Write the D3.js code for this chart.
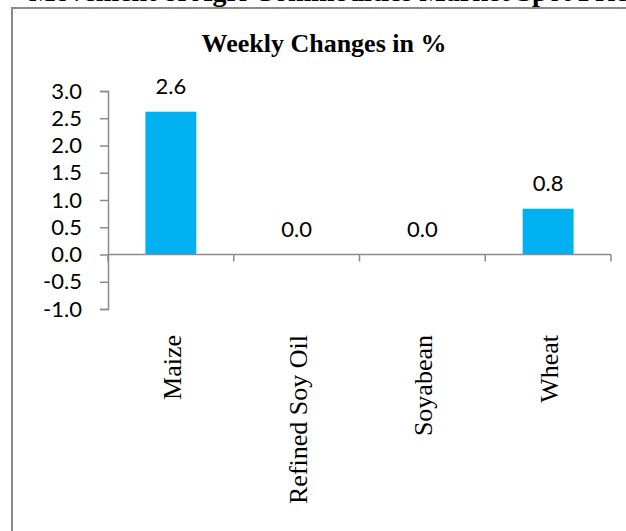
<!DOCTYPE html>
<html><head><meta charset="utf-8">
<script src="https://cdn.jsdelivr.net/npm/d3@7"></script>
<style>body{margin:0;background:#fff;}svg{display:block;}</style>
</head><body>
<svg id="c" width="626" height="531"></svg>
<script>
const categories = ["Maize", "Refined Soy Oil", "Soyabean", "Wheat"];
const values = [2.62, 0.0, 0.0, 0.84];
const valueLabels = ["2.6", "0.0", "0.0", "0.8"];
const yTicks = [-1.0, -0.5, 0.0, 0.5, 1.0, 1.5, 2.0, 2.5, 3.0];
const yTickLabels = ["-1.0", "-0.5", "0.0", "0.5", "1.0", "1.5", "2.0", "2.5", "3.0"];
const title = "Weekly Changes in %";
const pageHeading = "Movement of Agri Commodities Market Spot Prices";

const svg = d3.select("#c");
// clipped heading above frame (only the bottom of it is visible)
svg.append("text").attr("x", 340).attr("y", 1)
  .attr("text-anchor", "middle")
  .style("font-family", "Liberation Serif").style("font-weight", "bold").style("font-size", "28px")
  .text(pageHeading);
svg.append("rect").attr("x", 0).attr("y", 8).attr("width", 626).attr("height", 530).attr("fill", "#fff");
// frame
svg.append("rect").attr("x", 12).attr("y", 8).attr("width", 640).attr("height", 560)
  .attr("fill", "none").attr("stroke", "#8a8a8a").attr("stroke-width", 2);

svg.append("text").attr("x", 324).attr("y", 52).attr("text-anchor", "middle")
  .style("font-family", "Liberation Serif").style("font-weight", "bold").style("font-size", "26px")
  .text(title);

const x = d3.scaleBand().domain(categories).range([108, 611]);
const y = d3.scaleLinear().domain([-1, 3]).range([309, 91]);

// y axis
const ya = svg.append("g").attr("transform", "translate(108,0)")
  .call(d3.axisLeft(y).tickValues(yTicks).tickSize(8).tickPadding(18)
    .tickFormat((d, i) => yTickLabels[i]));
ya.select(".domain").attr("stroke", "#8a8a8a").attr("stroke-width", 1.5);
ya.selectAll(".tick line").attr("stroke", "#8a8a8a").attr("stroke-width", 1.5);
ya.selectAll(".tick text").style("font-family", "Lato").style("font-size", "22px").attr("fill", "#000");

// bars
const bw = x.bandwidth() * 0.405;
svg.selectAll("rect.bar").data(values).join("rect").attr("class", "bar")
  .attr("x", (d, i) => x(categories[i]) + x.bandwidth() / 2 - bw / 2)
  .attr("width", bw)
  .attr("y", d => y(Math.max(0, d)))
  .attr("height", d => Math.abs(y(d) - y(0)))
  .attr("fill", "#00B0F0");

// x axis line and ticks
const xa = svg.append("g");
xa.append("line").attr("x1", 108).attr("x2", 611).attr("y1", y(0)).attr("y2", y(0))
  .attr("stroke", "#8a8a8a").attr("stroke-width", 1.5);
const bounds = categories.map(c => x(c)).concat([x.range()[1]]);
xa.selectAll("line.t").data(bounds).join("line").attr("class", "t")
  .attr("x1", d => d).attr("x2", d => d).attr("y1", y(0)).attr("y2", y(0) + 7)
  .attr("stroke", "#8a8a8a").attr("stroke-width", 1.5);

// value labels
svg.selectAll("text.vl").data(values).join("text").attr("class", "vl")
  .attr("x", (d, i) => x(categories[i]) + x.bandwidth() / 2)
  .attr("y", d => y(Math.max(0, d)) - 18)
  .attr("text-anchor", "middle")
  .style("font-family", "Lato").style("font-size", "22px")
  .text((d, i) => valueLabels[i]);

// category labels
svg.selectAll("text.cl").data(categories).join("text").attr("class", "cl")
  .attr("transform", d => `translate(${x(d) + x.bandwidth() / 2 + 10},335) rotate(-90)`)
  .attr("text-anchor", "end")
  .style("font-family", "Liberation Serif").style("font-size", "26px")
  .text(d => d);
</script>
</body></html>
